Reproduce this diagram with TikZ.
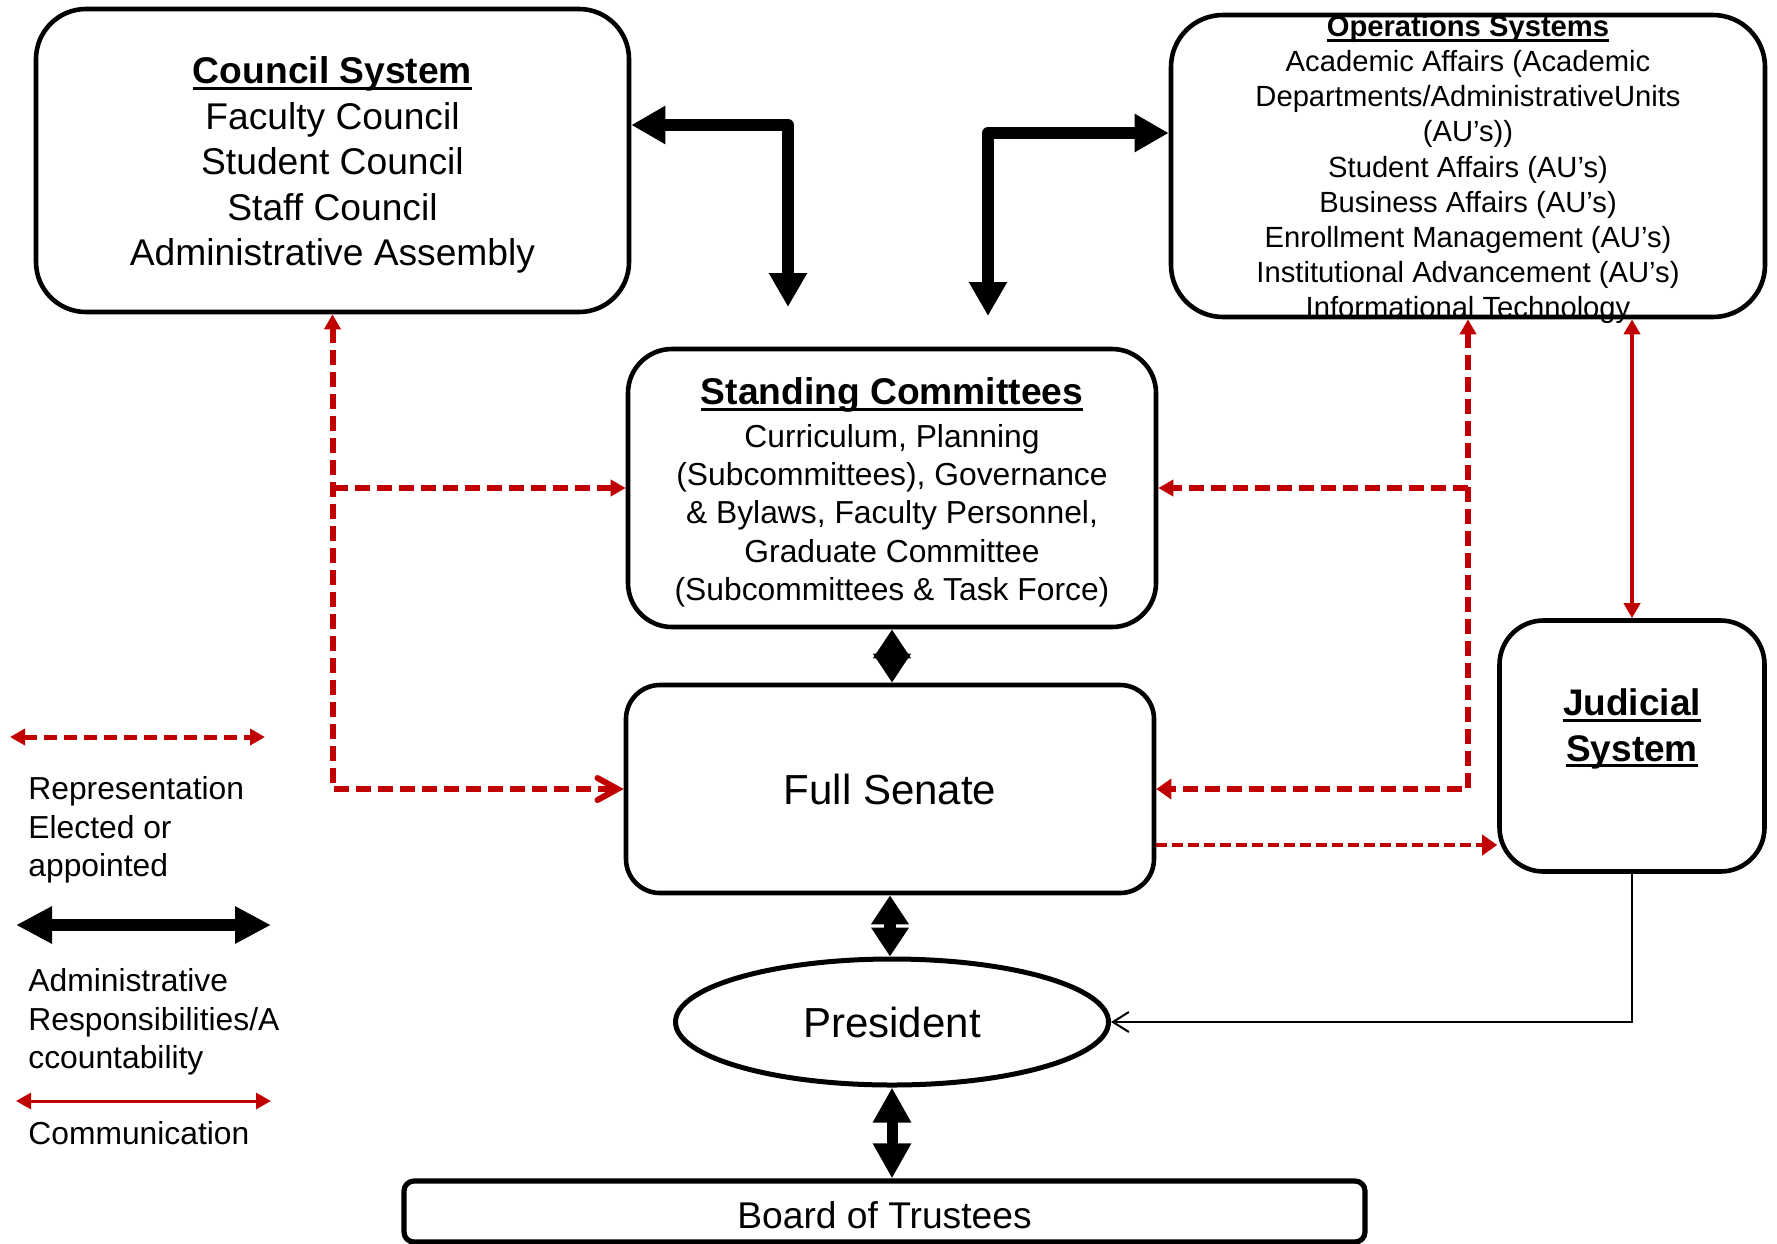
\documentclass[tikz,border=0pt]{standalone}
\usepackage{fontspec}
\setmainfont{Liberation Sans}
\usetikzlibrary{arrows.meta,shapes.geometric}
\definecolor{repred}{HTML}{C00000}
\newcommand\myul[1]{\setbox0\hbox{#1}\rlap{\rule[-3pt]{\wd0}{1.4pt}}\box0}
\tikzset{
  rtri/.tip={Triangle[length=7.5pt,width=8pt]},
  rtriw/.tip={Triangle[length=7.5pt,width=10pt]},
}
\begin{document}
\begin{tikzpicture}[x=0.5pt,y=-0.5pt,
  box/.style={draw, line width=2.3pt, rounded corners=#1, inner sep=0pt, align=center},
  box/.default=22pt,
  txt/.style={inner sep=0pt, align=center},
  blk/.style={line width=6pt, line join=round, {Triangle[length=17pt,width=18pt]}-{Triangle[length=17pt,width=18pt]}},
  diam/.style={line width=6pt, {Triangle[length=14.5pt,width=18pt]}-{Triangle[length=14.5pt,width=18pt]}},
  bigdbl/.style={line width=5.5pt, {Triangle[length=17.5pt,width=18pt]}-{Triangle[length=17.5pt,width=18pt]}},
  rep/.style={draw=repred, line width=3pt, dash pattern=on 7.5pt off 3.5pt},
  repthin/.style={draw=repred, line width=2pt, dash pattern=on 5.5pt off 2.5pt},
  comm/.style={draw=repred, line width=2.2pt, {rtri}-{rtri}},
  legtxt/.style={anchor=west, align=left, inner sep=0pt, font=\fontsize{15.9}{19.25}\selectfont},
]
\useasboundingbox (0,0) rectangle (1777,1243);

% ---------- boxes ----------
\node[box=25pt, minimum width=296.5pt, minimum height=151.5pt] (council) at (332.5,160.5) {};
\node[txt, font=\fontsize{18.6}{22.7}\selectfont] (counciltext) at (332.5,165)
  {\textbf{\myul{Council System}}\\Faculty Council\\Student Council\\Staff Council\\Administrative Assembly};

\node[box=26pt, minimum width=297pt, minimum height=151pt] (ops) at (1468,166) {};
\node[txt, font=\fontsize{14.6}{17.6}\selectfont] (opstext) at (1468,169.5)
  {\textbf{\myul{Operations Systems}}\\Academic Affairs (Academic\\Departments/AdministrativeUnits\\(AU’s))\\Student Affairs (AU’s)\\Business Affairs (AU’s)\\Enrollment Management (AU’s)\\Institutional Advancement (AU’s)\\Informational Technology};

\node[box=22pt, minimum width=264pt, minimum height=139pt] (standing) at (892,488) {};
\node[txt, font=\fontsize{15.9}{19.2}\selectfont] (standingtext) at (892,492.5)
  {{\fontsize{18.6}{22}\selectfont\textbf{\myul{Standing Committees}}}\\[2pt]Curriculum, Planning\\(Subcommittees), Governance\\\& Bylaws, Faculty Personnel,\\Graduate Committee\\(Subcommittees \& Task Force)};

\node[box=17pt, minimum width=264pt, minimum height=104pt,
      font=\fontsize{21}{25}\selectfont] (senate) at (890,789) {Full Senate};

\node[ellipse, draw, line width=2.5pt, minimum width=216.5pt, minimum height=63pt, inner sep=0pt,
      font=\fontsize{21}{25}\selectfont] (president) at (892,1022) {President};

\node[box=5pt, line width=2.6pt, minimum width=480.5pt, minimum height=30.5pt] (board) at (884.5,1211.5) {};
\node[txt, font=\fontsize{18.6}{22}\selectfont] (boardtext) at (884.5,1215) {Board of Trustees};

\node[box=22pt, minimum width=132.5pt, minimum height=125.5pt] (judicial) at (1632,746) {};
\node[txt, font=\fontsize{18.5}{22.7}\selectfont\bfseries] (judtext) at (1632,729)
  {\myul{Judicial}\\\myul{System}};

% ---------- black thick connectors ----------
\coordinate (bendA) at (788,125);
\coordinate (tipA) at (788,307);
\draw[blk] (council.east |- bendA) -- (bendA) -- (tipA);
\coordinate (bendB) at (988,133);
\coordinate (tipB) at (988,316);
\draw[blk] (tipB) -- (bendB) -- (ops.west |- bendB);

\draw[diam] (standing.south) -- (standing.south |- senate.north);
\draw[diam] (senate.south) -- (senate.south |- president.north);
\draw[bigdbl] (president.south) -- (president.south |- board.north);

% ---------- red representation connectors ----------
\draw[rep, {rtri}-{Straight Barb[length=10pt,width=11pt,line cap=round]}] (council.south) |- (senate.west);
\draw[rep, -{rtri}] (council.south |- standing.west) -- (standing.west);
\draw[rep, {rtri}-{rtriw}] (ops.south) |- (senate.east);
\draw[rep, -{rtri}] (ops.south |- standing.east) -- (standing.east);
\coordinate (sjy) at (0,845);
\draw[repthin, -{rtriw}] (senate.east |- sjy) -- (judicial.west |- sjy);

% ---------- communication ----------
\draw[comm] (judicial.north |- ops.south) -- (judicial.north);

% ---------- judicial to president ----------
\draw[line width=1pt, -{Straight Barb[length=8pt,width=10pt]}] (judicial.south) |- (president.east);

% ---------- legend ----------
\coordinate (l1a) at (10,737);  \coordinate (l1b) at (265,737);
\draw[draw=repred, line width=2.5pt, dash pattern=on 6.5pt off 3.5pt, {rtri}-{rtri}] (l1a) -- (l1b);
\node[legtxt] (legrep) at (28,830) {Representation\\Elected or\\appointed};

\coordinate (l2a) at (16,925);  \coordinate (l2b) at (271,925);
\draw[line width=6pt, {Triangle[length=18pt,width=17.5pt]}-{Triangle[length=18pt,width=17.5pt]}] (l2a) -- (l2b);
\node[legtxt] (legadm) at (28,1022) {Administrative\\Responsibilities/A\\ccountability};

\coordinate (l3a) at (16,1101); \coordinate (l3b) at (271,1101);
\draw[draw=repred, line width=1.5pt, {rtri}-{rtri}] (l3a) -- (l3b);
\node[legtxt] (legcom) at (28,1133) {Communication};
\end{tikzpicture}
\end{document}
